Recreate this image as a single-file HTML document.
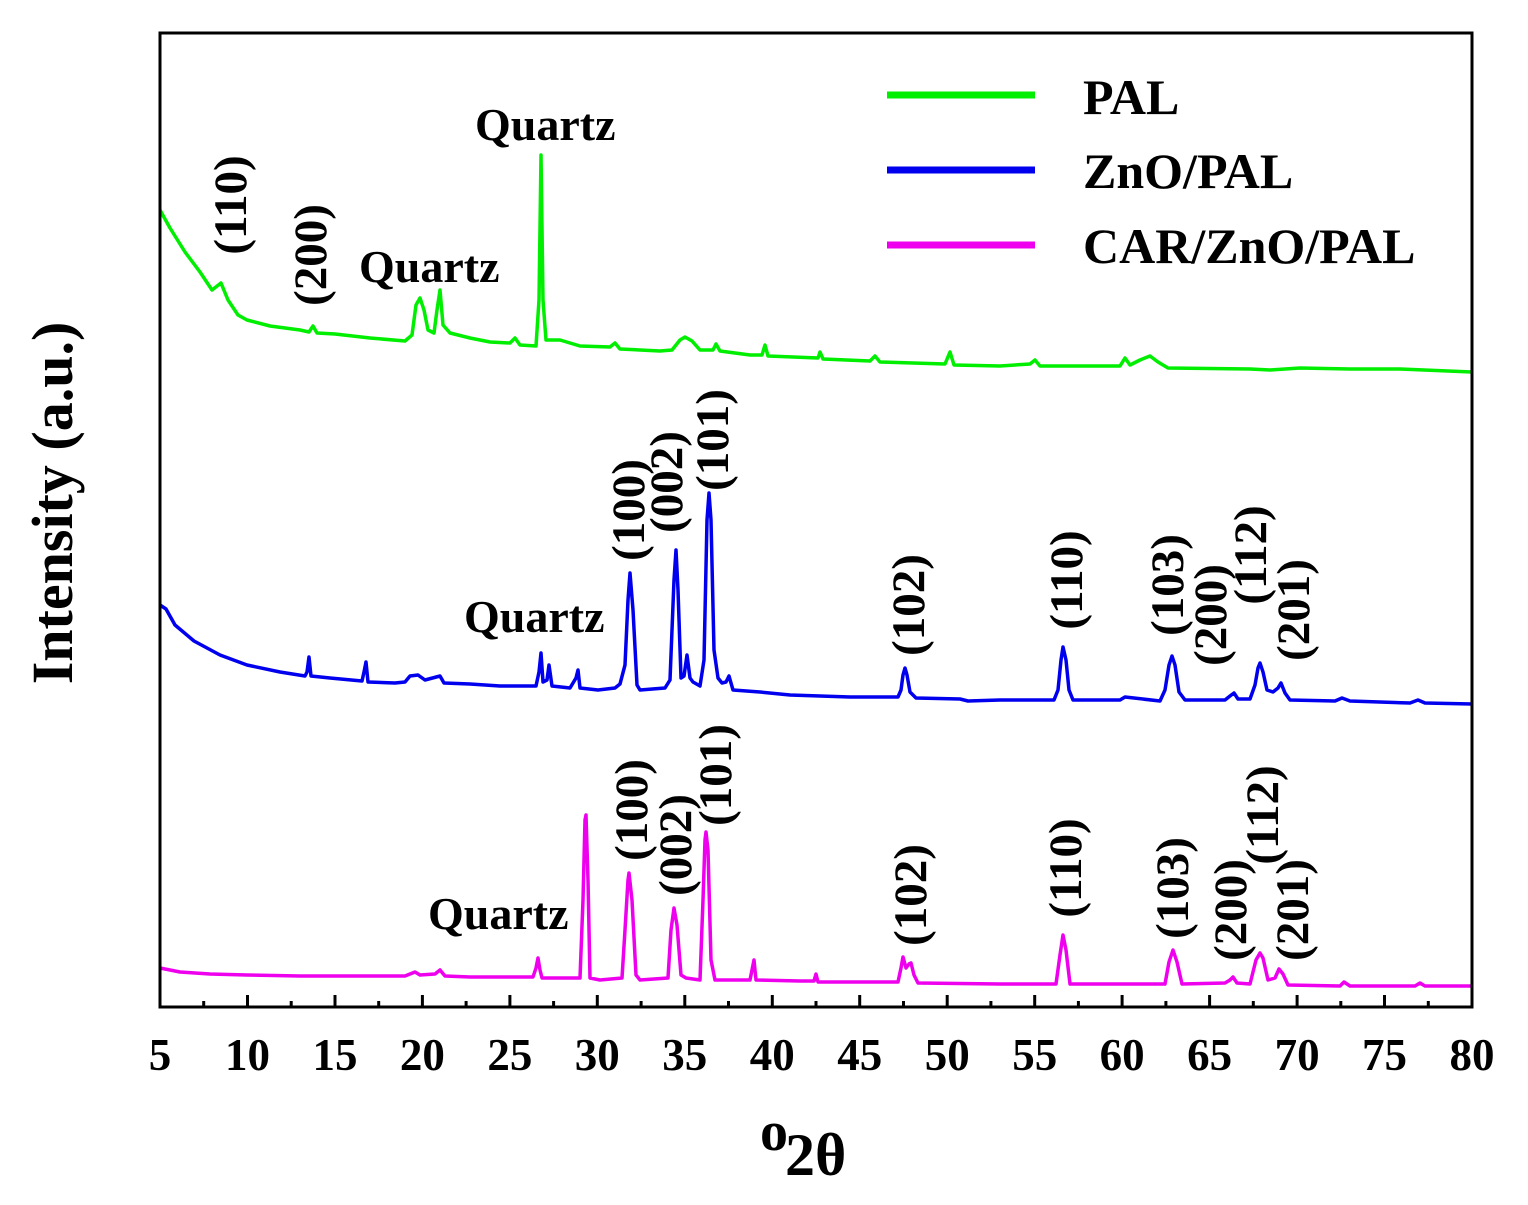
<!DOCTYPE html>
<html><head><meta charset="utf-8"><style>
html,body{margin:0;padding:0;background:#fff;}
svg{display:block;font-family:"Liberation Serif",serif;font-weight:bold;}
</style></head><body>
<svg width="1528" height="1205" viewBox="0 0 1528 1205" xmlns="http://www.w3.org/2000/svg">
<rect x="0" y="0" width="1528" height="1205" fill="#fff"/>
<polyline fill="none" stroke="#00ee00" stroke-width="3.5" stroke-linejoin="round" points="160,210 170,228 185,252 200,272 212,290 221,283 228,300 238,315 247,320 270,326 300,330 309,332 313,326 317,333 335,334 370,338 405,341 412,335 416,305 420,298 424,310 428,330 434,333 437,310 440,290 443,325 450,333 470,338 490,342 510,343 515,338 520,345 536,346 539,300 541,155 543,300 546,340 560,340 580,346 610,347 615,343 620,349 660,351 672,350 680,340 685,337 692,341 700,350 713,350 716,344 720,351 750,355 762,355 765,345 768,356 818,358 820,352 823,359 870,361 875,356 880,362 945,364 950,352 954,365 1000,366 1030,364 1035,360 1040,366 1120,366 1125,358 1130,365 1140,360 1150,356 1158,362 1168,368 1250,369 1270,370 1300,368 1350,369 1400,369 1472,372"/>
<polyline fill="none" stroke="#0000ee" stroke-width="3.5" stroke-linejoin="round" points="160,605 166,609 175,625 194,641 220,655 247,665 280,672 305,676 307,672 309,657 311,676 330,678 362,681 364,672 366,662 368,682 395,683 405,682 410,676 418,675 425,680 440,676 444,683 470,684 500,686 536,686 539,672 541,653 543,682 547,680 549,665 552,686 570,688 576,678 578,670 580,688 598,690 615,688 620,684 625,665 628,600 630,573 633,610 637,685 640,690 665,688 670,680 674,580 676,550 678,590 681,678 684,676 687,655 690,678 693,682 700,686 704,660 707,520 709,493 711,520 714,650 718,678 722,683 726,682 729,676 733,690 760,692 790,695 850,697 898,697 901,690 903,675 905,668 907,675 910,692 916,698 960,699 968,701 1000,700 1054,700 1058,690 1061,660 1063,647 1066,660 1069,690 1073,700 1120,700 1125,697 1160,701 1165,690 1169,665 1172,656 1175,665 1179,692 1185,700 1225,700 1230,696 1234,693 1238,699 1250,699 1255,685 1258,668 1260,663 1263,672 1267,690 1273,692 1278,688 1281,683 1285,693 1290,700 1335,701 1342,698 1350,701 1410,703 1418,700 1425,703 1472,704"/>
<polyline fill="none" stroke="#ee00ee" stroke-width="3.5" stroke-linejoin="round" points="160,968 180,972 210,974 247,975 300,976 350,976 405,976 415,972 420,975 435,974 440,970 445,976 470,977 500,977 533,977 536,968 538,958 540,970 542,978 580,978 583,900 585,820 586,815 588,880 590,978 600,980 622,978 625,930 628,880 629,873 632,900 636,975 640,980 668,978 671,930 674,908 677,925 681,975 686,978 700,980 703,900 705,840 706,832 708,850 711,960 715,980 750,980 752,970 754,960 756,980 800,981 814,981 816,974 818,982 880,982 898,982 901,968 903,957 906,968 909,964 911,963 914,975 918,983 1000,984 1056,984 1060,955 1063,935 1066,950 1070,984 1120,984 1165,984 1169,962 1173,950 1177,962 1182,984 1225,983 1230,980 1233,977 1237,983 1250,984 1256,960 1260,953 1263,958 1268,980 1275,978 1279,969 1283,974 1288,985 1340,986 1344,982 1350,986 1415,986 1420,983 1425,986 1472,986"/>
<rect x="160" y="33" width="1312" height="974" fill="none" stroke="#000" stroke-width="3"/>
<g stroke="#000" stroke-width="3">
<line x1="160" y1="1007" x2="160" y2="995"/><line x1="247.5" y1="1007" x2="247.5" y2="995"/><line x1="335" y1="1007" x2="335" y2="995"/><line x1="422.4" y1="1007" x2="422.4" y2="995"/><line x1="509.9" y1="1007" x2="509.9" y2="995"/><line x1="597.3" y1="1007" x2="597.3" y2="995"/><line x1="684.8" y1="1007" x2="684.8" y2="995"/><line x1="772.3" y1="1007" x2="772.3" y2="995"/><line x1="859.7" y1="1007" x2="859.7" y2="995"/><line x1="947.2" y1="1007" x2="947.2" y2="995"/><line x1="1034.7" y1="1007" x2="1034.7" y2="995"/><line x1="1122.1" y1="1007" x2="1122.1" y2="995"/><line x1="1209.6" y1="1007" x2="1209.6" y2="995"/><line x1="1297.1" y1="1007" x2="1297.1" y2="995"/><line x1="1384.5" y1="1007" x2="1384.5" y2="995"/>
<line x1="203.7" y1="1007" x2="203.7" y2="1001"/><line x1="291.2" y1="1007" x2="291.2" y2="1001"/><line x1="378.7" y1="1007" x2="378.7" y2="1001"/><line x1="466.1" y1="1007" x2="466.1" y2="1001"/><line x1="553.6" y1="1007" x2="553.6" y2="1001"/><line x1="641.1" y1="1007" x2="641.1" y2="1001"/><line x1="728.5" y1="1007" x2="728.5" y2="1001"/><line x1="816" y1="1007" x2="816" y2="1001"/><line x1="903.5" y1="1007" x2="903.5" y2="1001"/><line x1="990.9" y1="1007" x2="990.9" y2="1001"/><line x1="1078.4" y1="1007" x2="1078.4" y2="1001"/><line x1="1165.9" y1="1007" x2="1165.9" y2="1001"/><line x1="1253.3" y1="1007" x2="1253.3" y2="1001"/><line x1="1340.8" y1="1007" x2="1340.8" y2="1001"/><line x1="1428.3" y1="1007" x2="1428.3" y2="1001"/>
</g>
<g font-size="45" text-anchor="middle" fill="#000">
<text x="160" y="1070">5</text><text x="247.5" y="1070">10</text><text x="335" y="1070">15</text><text x="422.4" y="1070">20</text><text x="509.9" y="1070">25</text><text x="597.3" y="1070">30</text><text x="684.8" y="1070">35</text><text x="772.3" y="1070">40</text><text x="859.7" y="1070">45</text><text x="947.2" y="1070">50</text><text x="1034.7" y="1070">55</text><text x="1122.1" y="1070">60</text><text x="1209.6" y="1070">65</text><text x="1297.1" y="1070">70</text><text x="1384.5" y="1070">75</text><text x="1472" y="1070">80</text>
</g>
<text x="760" y="1150" font-size="56">o</text><text x="785" y="1175" font-size="60">2θ</text>
<text transform="translate(72,503) rotate(-90)" font-size="58" text-anchor="middle">Intensity (a.u.)</text>
<line x1="887" y1="95" x2="1035" y2="95" stroke="#00ee00" stroke-width="7"/>
<line x1="887" y1="170" x2="1035" y2="170" stroke="#0000ee" stroke-width="7"/>
<line x1="887" y1="245" x2="1035" y2="245" stroke="#ee00ee" stroke-width="7"/>
<g font-size="50"><text x="1083" y="114">PAL</text><text x="1083" y="188">ZnO/PAL</text><text x="1083" y="263">CAR/ZnO/PAL</text></g>
<g font-size="46"><text x="475" y="140">Quartz</text><text x="359" y="282">Quartz</text><text x="464" y="632">Quartz</text><text x="428" y="929">Quartz</text></g>
<g font-size="47" text-anchor="middle">
<text transform="translate(246,205) rotate(-90)">(110)</text>
<text transform="translate(326,255) rotate(-90)">(200)</text>
<text transform="translate(644,510) rotate(-90)">(100)</text>
<text transform="translate(682,482) rotate(-90)">(002)</text>
<text transform="translate(728,440) rotate(-90)">(101)</text>
<text transform="translate(924,605) rotate(-90)">(102)</text>
<text transform="translate(1082,580) rotate(-90)">(110)</text>
<text transform="translate(1183,585) rotate(-90)">(103)</text>
<text transform="translate(1226,615) rotate(-90)">(200)</text>
<text transform="translate(1266,555) rotate(-90)">(112)</text>
<text transform="translate(1309,610) rotate(-90)">(201)</text>
<text transform="translate(647,810) rotate(-90)">(100)</text>
<text transform="translate(691,845) rotate(-90)">(002)</text>
<text transform="translate(731,775) rotate(-90)">(101)</text>
<text transform="translate(926,895) rotate(-90)">(102)</text>
<text transform="translate(1081,868) rotate(-90)">(110)</text>
<text transform="translate(1188,888) rotate(-90)">(103)</text>
<text transform="translate(1246,910) rotate(-90)">(200)</text>
<text transform="translate(1278,815) rotate(-90)">(112)</text>
<text transform="translate(1308,910) rotate(-90)">(201)</text>
</g>
</svg>
</body></html>
